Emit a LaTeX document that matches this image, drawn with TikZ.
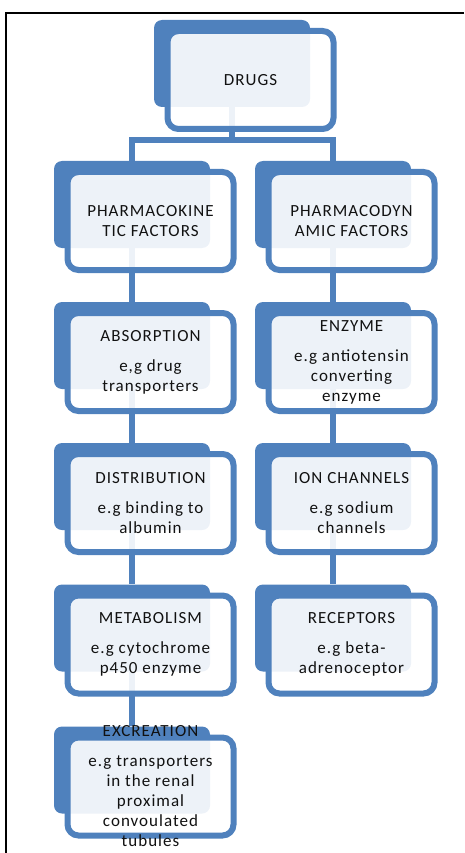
\documentclass[tikz,border=0pt]{standalone}
\usepackage{fontspec}
\newfontfamily\boxfont{Carlito}[LetterSpace=6]
\usetikzlibrary{positioning}
\pgfdeclarelayer{background}
\pgfsetlayers{background,main}
\definecolor{boxblue}{HTML}{4F81BD}
\definecolor{boxink}{HTML}{111111}
\tikzset{
    backbox/.style={rectangle, rounded corners=8pt, fill=boxblue,
        minimum width=156pt, minimum height=87pt, inner sep=0pt},
    frontbox/.style={rectangle, rounded corners=11pt, draw=boxblue, line width=6pt,
        fill=white, fill opacity=0.9, minimum width=166pt, minimum height=98pt, inner sep=0pt},
    boxtext/.style={align=center, text=boxink, inner sep=0pt,
        font=\boxfont\fontsize{17}{20}\selectfont},
    link/.style={draw=boxblue, line width=6.5pt}
}

\begin{document}
\begin{tikzpicture}[x=1pt, y=-1pt]
    \useasboundingbox (0, 0) rectangle (464, 853);
    \draw[line width=2.5pt] (464, 13) -- (6, 13) -- (6, 853);
    \coordinate (split) at (232, 140);
    % top
    \begin{scope}[shift={(232, 63.5)}]
        \node[backbox] (drugsback) at (0, 0) {};
        \node[frontbox] (drugsfront) at (18.5, 16.5) {};
        \node[boxtext] (drugstext) at (drugsfront) {DRUGS};
    \end{scope}
    % left column
    \begin{scope}[shift={(132, 204.5)}]
        \node[backbox] (pkback) at (0, 0) {};
        \node[frontbox] (pkfront) at (18.5, 16.5) {};
        \node[boxtext] (pktext) at (pkfront) {PHARMACOKINE\\TIC FACTORS};
    \end{scope}
    \begin{scope}[shift={(132, 345.5)}]
        \node[backbox] (absback) at (0, 0) {};
        \node[frontbox] (absfront) at (18.5, 16.5) {};
        \node[boxtext] (abstext) at (absfront) {ABSORPTION\\[10pt]e,g drug\\transporters};
    \end{scope}
    \begin{scope}[shift={(132, 486.5)}]
        \node[backbox] (distback) at (0, 0) {};
        \node[frontbox] (distfront) at (18.5, 16.5) {};
        \node[boxtext] (disttext) at (distfront) {DISTRIBUTION\\[10pt]e.g binding to\\albumin};
    \end{scope}
    \begin{scope}[shift={(132, 628)}]
        \node[backbox] (metback) at (0, 0) {};
        \node[frontbox] (metfront) at (18.5, 16.5) {};
        \node[boxtext] (mettext) at (metfront) {METABOLISM\\[10pt]e.g cytochrome\\p450 enzyme};
    \end{scope}
    \begin{scope}[shift={(132, 770)}]
        \node[backbox] (excback) at (0, 0) {};
        \node[frontbox] (excfront) at (18.5, 16.5) {};
        \node[boxtext] (exctext) at (excfront) {EXCREATION\\[10pt]e.g transporters\\in the renal\\proximal\\convoulated\\tubules};
    \end{scope}
    % right column
    \begin{scope}[shift={(333, 204.5)}]
        \node[backbox] (pdback) at (0, 0) {};
        \node[frontbox] (pdfront) at (18.5, 16.5) {};
        \node[boxtext] (pdtext) at (pdfront) {PHARMACODYN\\AMIC FACTORS};
    \end{scope}
    \begin{scope}[shift={(333, 345.5)}]
        \node[backbox] (enzback) at (0, 0) {};
        \node[frontbox] (enzfront) at (18.5, 16.5) {};
        \node[boxtext] (enztext) at (enzfront) {ENZYME\\[10pt]e.g antiotensin\\converting\\enzyme};
    \end{scope}
    \begin{scope}[shift={(333, 486.5)}]
        \node[backbox] (ionback) at (0, 0) {};
        \node[frontbox] (ionfront) at (18.5, 16.5) {};
        \node[boxtext] (iontext) at (ionfront) {ION CHANNELS\\[10pt]e.g sodium\\channels};
    \end{scope}
    \begin{scope}[shift={(333, 628)}]
        \node[backbox] (recback) at (0, 0) {};
        \node[frontbox] (recfront) at (18.5, 16.5) {};
        \node[boxtext] (rectext) at (recfront) {RECEPTORS\\[10pt]e.g beta-\\adrenoceptor};
    \end{scope}
    % connectors behind the boxes
    \begin{pgfonlayer}{background}
        \draw[link] (drugsback.south) -- (split);
        \draw[link] (pkback.north) |- (split) -| (pdback.north);
        \draw[link] (pkback.south) -- (absback.north);
        \draw[link] (absback.south) -- (distback.north);
        \draw[link] (distback.south) -- (metback.north);
        \draw[link] (metback.south) -- (excback.north);
        \draw[link] (pdback.south) -- (enzback.north);
        \draw[link] (enzback.south) -- (ionback.north);
        \draw[link] (ionback.south) -- (recback.north);
    \end{pgfonlayer}
\end{tikzpicture}
\end{document}
